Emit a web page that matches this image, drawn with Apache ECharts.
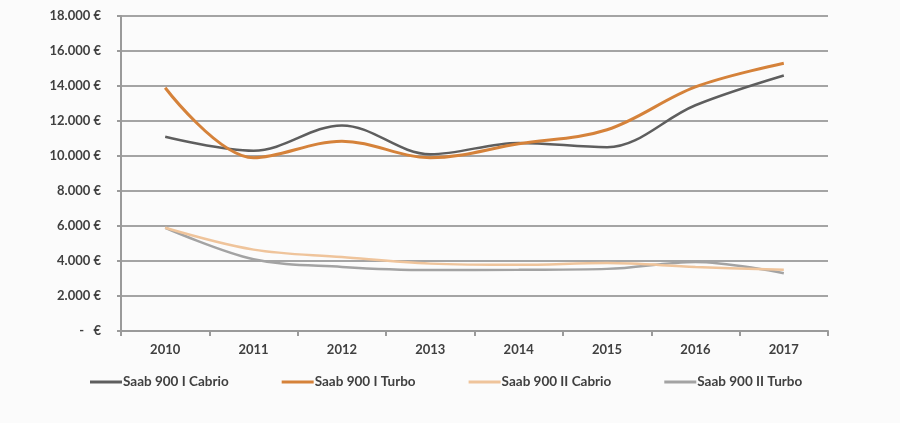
<!DOCTYPE html>
<html>
<head>
<meta charset="utf-8">
<script src="https://cdn.jsdelivr.net/npm/echarts@6/dist/echarts.min.js"></script>
<style>
html,body{margin:0;padding:0;background:#fbfbfb;}
#chart{width:900px;height:423px;}
</style>
</head>
<body>
<div id="chart"></div>
<script>
const years = ['2010','2011','2012','2013','2014','2015','2016','2017'];
const cabrioI = [11100, 10300, 11750, 10100, 10750, 10500, 12900, 14600];
const turboI = [13900, 9900, 10850, 9900, 10700, 11500, 13950, 15300];
const cabrioII = [5900, 4650, 4230, 3850, 3780, 3880, 3660, 3500];
const turboII = [5900, 4100, 3660, 3480, 3500, 3550, 3950, 3300];
const seriesNames = ['Saab 900 I Cabrio', 'Saab 900 I Turbo', 'Saab 900 II Cabrio', 'Saab 900 II Turbo'];

const font = 'Lato';
const chart = echarts.init(document.getElementById('chart'));
function fmt(v){
  if (v === 0) return '-   €';
  return (v/1000).toFixed(0) + '.000 €';
}
function mk(name, data, color, width, z){
  return {
    name: name, type: 'line', data: data, smooth: 0.35,
    symbol: 'none', z: z,
    lineStyle: {color: color, width: width},
    itemStyle: {color: color}
  };
}
chart.setOption({
  backgroundColor: '#fbfbfb',
  animation: false,
  grid: {left: 121, right: 72, top: 16, bottom: 92},
  legend: {
    left: 85, top: 370, itemGap: 53, itemWidth: 32, itemHeight: 3,
    icon: 'rect',
    textStyle: {fontFamily: font, fontSize: 13.5, color: '#404040', fontWeight: 'bold', padding: [0,0,0,-4]},
    data: seriesNames
  },
  xAxis: {
    type: 'category', data: years, boundaryGap: true,
    axisLine: {lineStyle: {color: '#9a9a9a', width: 2}},
    axisTick: {show: true, length: 5, lineStyle: {color: '#9a9a9a', width: 2}},
    axisLabel: {fontFamily: font, fontSize: 13, fontWeight: 'bold', color: '#404040', margin: 12}
  },
  yAxis: {
    type: 'value', min: 0, max: 18000, interval: 2000,
    axisLine: {show: true, lineStyle: {color: '#9a9a9a', width: 2}},
    axisTick: {show: true, length: 4, lineStyle: {color: '#9a9a9a', width: 2}},
    splitLine: {lineStyle: {color: '#a4a4a4', width: 2}},
    axisLabel: {fontFamily: font, fontSize: 13, fontWeight: 'bold', color: '#404040', margin: 20, formatter: fmt}
  },
  series: [
    mk(seriesNames[0], cabrioI, '#5e5e5e', 2.5, 3),
    mk(seriesNames[1], turboI, '#d5823a', 3, 4),
    mk(seriesNames[2], cabrioII, '#efc49b', 2.5, 2),
    mk(seriesNames[3], turboII, '#a3a3a3', 2.5, 1)
  ]
});
</script>
</body>
</html>
